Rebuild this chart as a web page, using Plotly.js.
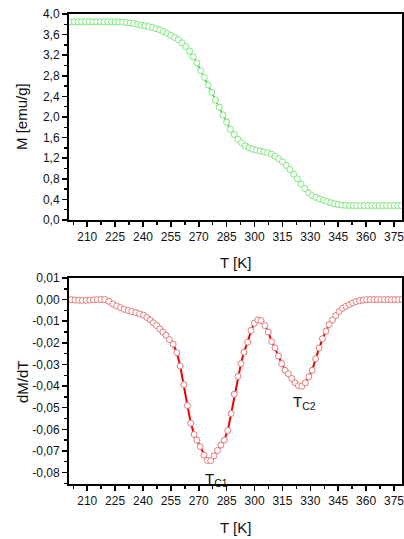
<!DOCTYPE html>
<html>
<head>
<meta charset="utf-8">
<script src="https://cdn.plot.ly/plotly-3.0.1.min.js"></script>
<style>html,body{margin:0;padding:0;background:#fff;}#chart{width:404px;height:539px;}</style>
</head>
<body>
<div id="chart"></div>
<script>
// Magnetization M(T)
const tempM = [201,203,205,207,209,211,213,215,217,219,221,223,225,227,229,231,233,235,237,239,241,243,245,247,249,251,253,255,257,259,261,263,265,267,269,271,273,275,277,279,281,283,285,287,289,291,293,295,297,299,301,303,305,307,309,311,313,315,317,319,321,323,325,327,329,331,333,335,337,339,341,343,345,347,349,351,353,355,357,359,361,363,365,367,369,371,373,375,377,379];
const magM = [3.85,3.85,3.85,3.85,3.85,3.85,3.85,3.85,3.85,3.85,3.85,3.85,3.848,3.845,3.84,3.835,3.825,3.815,3.80,3.785,3.77,3.755,3.74,3.715,3.69,3.66,3.625,3.585,3.545,3.50,3.44,3.37,3.28,3.17,3.05,2.90,2.77,2.62,2.48,2.33,2.19,2.04,1.90,1.76,1.66,1.57,1.50,1.44,1.40,1.375,1.355,1.34,1.325,1.31,1.28,1.24,1.19,1.13,1.06,0.98,0.89,0.80,0.70,0.61,0.53,0.475,0.44,0.41,0.385,0.36,0.335,0.315,0.30,0.29,0.285,0.28,0.28,0.28,0.28,0.28,0.28,0.28,0.28,0.28,0.28,0.28,0.28,0.28,0.28,0.28];

// Derivative dM/dT
const tempD = [201.4,203.4,205.4,207.4,209.4,211.4,213.4,215.4,217.4,219.4,221.7,223.8,225.8,227.9,229.9,232,234,236.2,238.2,240.3,242.1,243.9,245.6,247.3,249,250.7,252.4,254.2,256.2,258.2,260,262,263.9,265.7,267.5,269,270.7,272.8,274.6,276.4,278.2,280.1,281.9,283.7,285.6,287.4,289.1,291.1,292.7,294.3,296.3,298.1,299.9,301.7,303.5,305.5,307.4,309.2,311,312.8,314.6,316.4,318.2,320,321.8,323.6,325.4,327.3,329.2,331,332.9,334.7,336.5,338.4,340.1,341.9,343.7,345.5,347.3,349.1,351,352.8,354.6,356.5,358.4,360.3,362.2,364.1,366,367.9,369.8,371.7,373.6,375.5,377.4,379.3];
const dMdT = [0,-0.0002,-0.0003,-0.0004,-0.0003,-0.0002,-0.0001,0,0,0.0001,-0.0008,-0.002,-0.0029,-0.0037,-0.0045,-0.005,-0.0055,-0.006,-0.0066,-0.0072,-0.0083,-0.0094,-0.0107,-0.012,-0.0136,-0.015,-0.0165,-0.0185,-0.0206,-0.0245,-0.0307,-0.0393,-0.049,-0.0572,-0.0624,-0.065,-0.068,-0.0719,-0.0744,-0.0745,-0.0723,-0.0698,-0.0673,-0.065,-0.0606,-0.0527,-0.0438,-0.0355,-0.0296,-0.0243,-0.0197,-0.0143,-0.0109,-0.0094,-0.0097,-0.012,-0.015,-0.0194,-0.0223,-0.0261,-0.0296,-0.0327,-0.0343,-0.0365,-0.0385,-0.0398,-0.0401,-0.0385,-0.0357,-0.0327,-0.0273,-0.0224,-0.0181,-0.0146,-0.0115,-0.0094,-0.0074,-0.0055,-0.004,-0.0031,-0.0023,-0.0015,-0.0009,-0.0005,-0.0002,0,0,0,0,0,0,0,0,0,0,0];

// Tick labels
const xTickVals = [210,225,240,255,270,285,300,315,330,345,360,375];
const xTickText = ['210','225','240','255','270','285','300','315','330','345','360','375'];
const mTickVals = [0,0.4,0.8,1.2,1.6,2.0,2.4,2.8,3.2,3.6,4.0];
const mTickText = ['0,0','0,4','0,8','1,2','1,6','2,0','2,4','2,8','3,2','3,6','4,0'];
const dTickVals = [0.01,0,-0.01,-0.02,-0.03,-0.04,-0.05,-0.06,-0.07,-0.08];
const dTickText = ['0,01','0,00','-0,01','-0,02','-0,03','-0,04','-0,05','-0,06','-0,07','-0,08'];

const tickFont = {family:'Liberation Sans, Arial, sans-serif', size:12, color:'#111'};
const titleFont = {family:'Liberation Sans, Arial, sans-serif', size:15, color:'#111'};

function xAxis(anchor){
  return {
    anchor: anchor, range:[200.2,379.3], showgrid:false, zeroline:false,
    showline:true, linecolor:'#000', linewidth:2, mirror:true,
    ticks:'outside', ticklen:5, tickwidth:1.5, tickcolor:'#000',
    tickmode:'array', tickvals:xTickVals, ticktext:xTickText, tickfont:tickFont,
    ticklabeloverflow:'allow',
    minor:{ticks:'outside', ticklen:3, tickwidth:1.5, tickcolor:'#000', tick0:202.5, dtick:7.5}
  };
}
function yAxis(anchor, domain, range, vals, text, mdt, m0){
  return {
    anchor: anchor, domain: domain, range: range, showgrid:false, zeroline:false,
    showline:true, linecolor:'#000', linewidth:2, mirror:true,
    ticks:'outside', ticklen:5, tickwidth:1.5, tickcolor:'#000',
    tickmode:'array', tickvals:vals, ticktext:text, tickfont:tickFont,
    ticklabeloverflow:'allow',
    minor:{ticks:'outside', ticklen:3, tickwidth:1.5, tickcolor:'#000', tick0:m0, dtick:mdt}
  };
}

const traces = [
  {x: tempM, y: magM, xaxis:'x', yaxis:'y', type:'scatter', mode:'lines+markers',
   line:{color:'#11dd11', width:1.5},
   marker:{symbol:'circle', size:6, color:'#ffffff', line:{color:'#7ee87e', width:1}},
   cliponaxis:true, showlegend:false},
  {x: tempD, y: dMdT, xaxis:'x2', yaxis:'y2', type:'scatter', mode:'lines+markers',
   line:{color:'#ee0000', width:2},
   marker:{symbol:'circle', size:6, color:'#ffffff', line:{color:'#e07a7a', width:1}},
   cliponaxis:true, showlegend:false}
];

const layout = {
  width:404, height:539,
  margin:{l:69, r:2, t:14, b:55},
  paper_bgcolor:'#fff', plot_bgcolor:'#fff',
  showlegend:false,
  xaxis: xAxis('y'),
  yaxis: yAxis('x', [0.5617,1], [0,4.0], mTickVals, mTickText, 0.2, 0),
  xaxis2: xAxis('y2'),
  yaxis2: yAxis('x2', [0,0.4383], [-0.0853,0.01], dTickVals, dTickText, 0.005, 0),
  annotations:[
    {text:'T [K]', xref:'paper', yref:'paper', x:0.5, y:0.4723, showarrow:false, font:titleFont, xanchor:'center', yanchor:'middle'},
    {text:'T [K]', xref:'paper', yref:'paper', x:0.5, y:-0.0915, showarrow:false, font:titleFont, xanchor:'center', yanchor:'middle'},
    {text:'M [emu/g]', xref:'paper', yref:'paper', x:-0.141, y:0.781, textangle:-90, showarrow:false, font:titleFont, xanchor:'center', yanchor:'middle'},
    {text:'dM/dT', xref:'paper', yref:'paper', x:-0.141, y:0.217, textangle:-90, showarrow:false, font:titleFont, xanchor:'center', yanchor:'middle'},
    {text:'T<sub>C1</sub>', xref:'x2', yref:'y2', x:279.3, y:-0.0834, showarrow:false, font:{family:'Liberation Sans, Arial, sans-serif', size:15, color:'#111'}, xanchor:'center', yanchor:'middle'},
    {text:'T<sub>C2</sub>', xref:'x2', yref:'y2', x:326.6, y:-0.0475, showarrow:false, font:{family:'Liberation Sans, Arial, sans-serif', size:15, color:'#111'}, xanchor:'center', yanchor:'middle'}
  ]
};

Plotly.newPlot('chart', traces, layout, {staticPlot:true, displayModeBar:false});
</script>
</body>
</html>
